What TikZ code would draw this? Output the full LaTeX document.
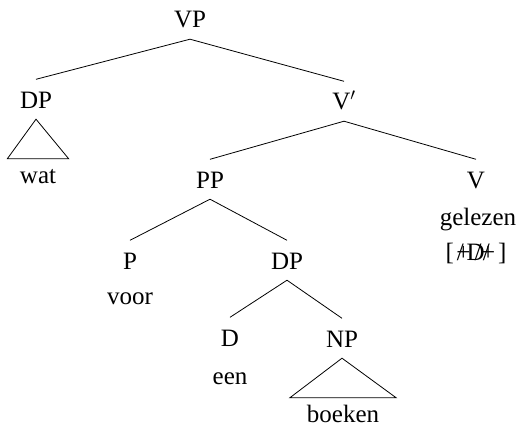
\documentclass[tikz,border=0pt]{standalone}
\usepackage{fontspec}
\setmainfont{Liberation Serif}
\begin{document}
\begin{tikzpicture}[x=1pt,y=-1pt,
  cat/.style={anchor=base,font=\fontsize{25}{29}\selectfont,inner xsep=0pt,inner ysep=0pt,text height=28.5pt,text depth=11pt},
  word/.style={anchor=base,font=\fontsize{25}{29}\selectfont,inner xsep=0pt,inner ysep=0pt,text height=24pt,text depth=6pt},
  branch/.style={line width=0.8pt}]
\useasboundingbox (0,0) rectangle (521,433);
\node[cat] (vp) at (190,28) {VP};
\node[cat] (dp1) at (36,108) {DP};
\node[cat] (vbar) at (344,110) {V$'$};
\node[word,minimum width=61pt] (wat) at (38,183) {wat};
\node[cat] (pp) at (210,188) {PP};
\node[cat] (v) at (476,188) {V};
\node[word] (gelezen) at (478,225) {gelezen};
\node[word] (feat) at (476,260) {[\kern3pt/\kern-0.3em+\kern-0.15em D\kern-0.4em/\kern0.05em/\kern-0.35em+\kern3pt]};
\node[cat] (p) at (130,269) {P};
\node[cat] (dp2) at (287,269) {DP};
\node[word] (voor) at (130,304) {voor};
\node[cat] (d) at (230,346) {D};
\node[cat] (np) at (342,347) {NP};
\node[word] (een) at (230,384) {een};
\node[word,minimum width=106pt] (boeken) at (343,422) {boeken};
\draw[branch] (vp.south) -- (dp1.north);
\draw[branch] (vp.south) -- (vbar.north);
\draw[branch] (dp1.south) -- (wat.north west) -- (wat.north east) -- cycle;
\draw[branch] (vbar.south) -- (pp.north);
\draw[branch] (vbar.south) -- (v.north);
\draw[branch] (pp.south) -- (p.north);
\draw[branch] (pp.south) -- (dp2.north);
\draw[branch] (dp2.south) -- (d.north);
\draw[branch] (dp2.south) -- (np.north);
\draw[branch] (np.south) -- (boeken.north west) -- (boeken.north east) -- cycle;
\end{tikzpicture}
\end{document}
